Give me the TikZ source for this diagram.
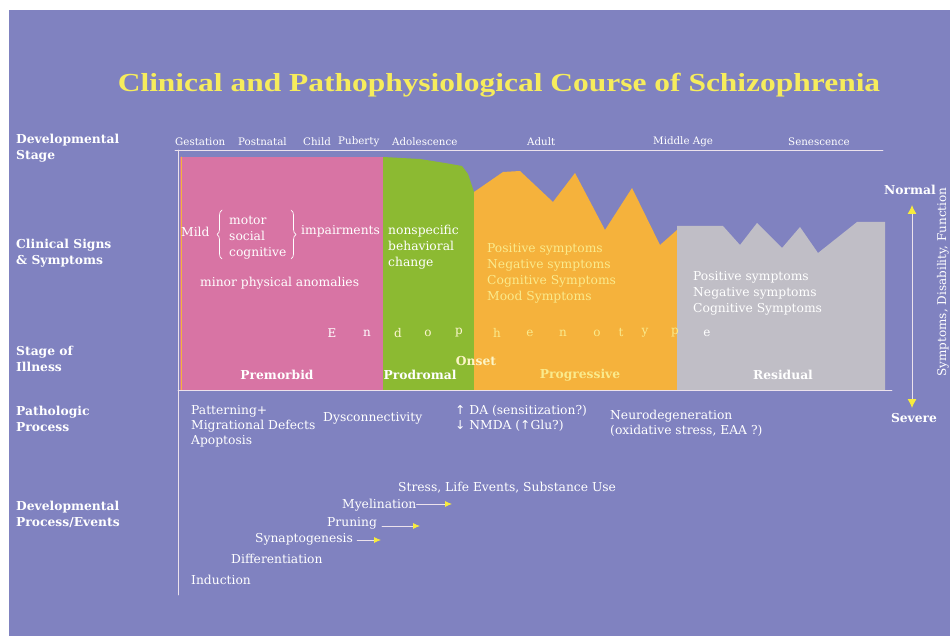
\documentclass[tikz,border=0pt]{standalone}
\usepackage{fontspec}
\setmainfont{DejaVu Serif}
\newfontfamily\titlefont{Liberation Serif}
\newfontfamily\arrowfont{DejaVu Sans}
\usetikzlibrary{arrows.meta}
\usetikzlibrary{decorations.pathreplacing}

\definecolor{bgblue}{RGB}{128,130,192}
\definecolor{pinkreg}{RGB}{216,116,164}
\definecolor{greenreg}{RGB}{140,186,50}
\definecolor{orangereg}{RGB}{245,178,60}
\definecolor{grayreg}{RGB}{192,190,198}
\definecolor{titleyellow}{RGB}{246,236,92}
\definecolor{paleyellow}{RGB}{250,234,140}
\definecolor{lineclr}{RGB}{236,226,236}
\definecolor{tipyellow}{RGB}{248,236,60}

\begin{document}
\begin{tikzpicture}[
  x=1pt,y=-1pt,
  line cap=round,
  line join=round,
  axis/.style={draw=lineclr,line width=0.9pt},
  curly/.style={draw=white,line width=0.7pt,decorate,
    decoration={brace,amplitude=5pt}},
  rowlab/.style={font=\bfseries\fontsize{12.3}{16}\selectfont,text=white,align=left,anchor=north west,inner sep=0},
  agelab/.style={font=\fontsize{10.3}{12}\selectfont,text=white,anchor=west,inner sep=0},
  txt/.style={font=\fontsize{12.3}{17}\selectfont,text=white,align=left,anchor=west,inner sep=0},
  phase/.style={font=\bfseries\fontsize{12.3}{14}\selectfont,inner sep=0},
  letter/.style={font=\fontsize{12}{14}\selectfont,inner sep=0},
  evarrow/.style={draw=lineclr,line width=0.8pt,-{Latex[color=tipyellow,length=7pt,width=6pt]}},
  scalearrow/.style={draw=lineclr,line width=0.9pt,
    {Latex[color=tipyellow,length=9pt,width=9pt]}-{Latex[color=tipyellow,length=9pt,width=9pt]}}
]
\useasboundingbox (0,0) rectangle (950,636);
\fill[white] (0,0) rectangle (950,636);
\fill[bgblue] (9,10) rectangle (950,636);

% Title
\node[font=\titlefont\bfseries\fontsize{26}{28}\selectfont,text=titleyellow,inner sep=0] (title) at (499,85)
  {\scalebox{1.21}[1]{Clinical and Pathophysiological Course of Schizophrenia}};

% Row labels
\node[rowlab] (devstage) at (16,134) {Developmental\\Stage};
\node[rowlab] (clinical) at (16,239) {Clinical Signs\\\& Symptoms};
\node[rowlab] (illness)  at (16,346) {Stage of\\Illness};
\node[rowlab] (patho)    at (16,406) {Pathologic\\Process};
\node[rowlab] (devproc)  at (16,501) {Developmental\\Process/Events};

% Developmental stages
\node[agelab] (gest)   at (175,142) {Gestation};
\node[agelab] (postn)  at (238,142) {Postnatal};
\node[agelab] (child)  at (303,142) {Child};
\node[agelab] (pub)    at (338,142) {Puberty};
\node[agelab] (adol)   at (392,142) {Adolescence};
\node[agelab] (adult)  at (527,142) {Adult};
\node[agelab] (middle) at (653,142) {Middle Age};
\node[agelab] (senes)  at (788,142) {Senescence};

% Illness course
\fill[pinkreg] (180,157) rectangle (383,390);
\draw[orangereg,line width=0.8pt] (181,157) -- (181,390);
\fill[greenreg] (383,157) -- (420,159) -- (445,163) -- (462,166) -- (468,174)
  -- (474,192) -- (474,390) -- (383,390) -- cycle;
\fill[orangereg] (474,192) -- (503,172) -- (520,171) -- (553,202) -- (575,173)
  -- (605,230) -- (632,188) -- (660,245) -- (677,230) -- (677,390) -- (474,390) -- cycle;
\fill[grayreg] (677,226) -- (723,226) -- (740,245) -- (757,223) -- (782,248)
  -- (800,227) -- (818,253) -- (857,222) -- (885,222) -- (885,390) -- (677,390) -- cycle;

% Axes
\draw[axis] (175,150) -- (883,150);
\draw[axis] (178,150) -- (178,595);
\draw[axis] (178,390) -- (892,390);

% Premorbid signs
\node[txt] (mild) at (181,232) {Mild};
\draw[curly] (222,259) -- (222,210);
\node[txt] (domains) at (229,238) {motor\\[-1pt]social\\[-1pt]cognitive};
\draw[curly] (291,210) -- (291,259);
\node[txt] (impair) at (301,231) {impairments};
\node[txt] (minor)  at (200,283) {minor physical anomalies};

% Prodromal signs
\node[txt] (nonspec) at (388,247) {nonspecific\\[-1pt]behavioral\\[-1pt]change};

% Progressive and residual symptoms
\node[txt,text=paleyellow] (progsym) at (487,273)
  {Positive symptoms\\[-1pt]Negative symptoms\\[-1pt]Cognitive Symptoms\\[-1pt]Mood Symptoms};
\node[txt] (ressym) at (693,293)
  {Positive symptoms\\[-1pt]Negative symptoms\\[-1pt]Cognitive Symptoms};

% Endophenotype
\node[letter,text=white] (e1)  at (332,333) {E};
\node[letter,text=white] (e2)  at (367,333) {n};
\node[letter,text=paleyellow!40!white] (e3)  at (398,333) {d};
\node[letter,text=paleyellow!40!white] (e4)  at (428,333) {o};
\node[letter,text=paleyellow!40!white] (e5)  at (459,333) {p};
\node[letter,text=paleyellow] (e6)  at (497,333) {h};
\node[letter,text=paleyellow] (e7)  at (530,333) {e};
\node[letter,text=paleyellow] (e8)  at (563,333) {n};
\node[letter,text=paleyellow] (e9)  at (597,333) {o};
\node[letter,text=paleyellow] (e10) at (621,333) {t};
\node[letter,text=paleyellow] (e11) at (645,333) {y};
\node[letter,text=paleyellow] (e12) at (675,333) {p};
\node[letter,text=white] (e13) at (707,333) {e};

% Stages of illness
\node[phase,text=paleyellow!50!white] (onset) at (476,361) {Onset};
\node[phase,text=white] (premorbid) at (277,375) {Premorbid};
\node[phase,text=white] (prodromal) at (420,375) {Prodromal};
\node[phase,text=paleyellow] (progressive) at (580,375) {Progressive};
\node[phase,text=white] (residual) at (783,375) {Residual};

% Severity scale
\node[phase,text=white] (normal) at (910,190) {Normal};
\node[phase,text=white] (severe) at (914,418) {Severe};
\draw[scalearrow] (912,205) -- (912,408);
\node[font=\fontsize{12}{13}\selectfont,text=white,rotate=90,inner sep=0] (sdf) at (943,282)
  {Symptoms, Disability, Function};

% Pathologic processes
\node[txt] (pattern) at (191,426) {Patterning+\\[-2pt]Migrational Defects\\[-2pt]Apoptosis};
\node[txt] (dyscon)  at (323,418) {Dysconnectivity};
\node[txt] (dopa)    at (455,418) {{\arrowfont↑} DA (sensitization?)\\[-2pt]{\arrowfont↓} NMDA ({\arrowfont↑}Glu?)};
\node[txt] (neuro)   at (610,423) {Neurodegeneration\\[-2pt](oxidative stress, EAA ?)};

% Developmental processes
\node[txt] (stress) at (398,488) {Stress, Life Events, Substance Use};
\node[txt] (myel)   at (342,505) {Myelination};
\node[txt] (prun)   at (327,523) {Pruning};
\node[txt] (synap)  at (255,539) {Synaptogenesis};
\node[txt] (diff)   at (231,559) {Differentiation};
\node[txt] (induc)  at (191,580) {Induction};

\coordinate (myelend)  at (452,504);
\coordinate (prunend)  at (420,526);
\coordinate (synapend) at (381,540);
\draw[evarrow] (myel.east |- myelend) -- (myelend);
\draw[evarrow] ([xshift=5pt]prun.east |- prunend) -- (prunend);
\draw[evarrow] ([xshift=4pt]synap.east |- synapend) -- (synapend);

\end{tikzpicture}
\end{document}
